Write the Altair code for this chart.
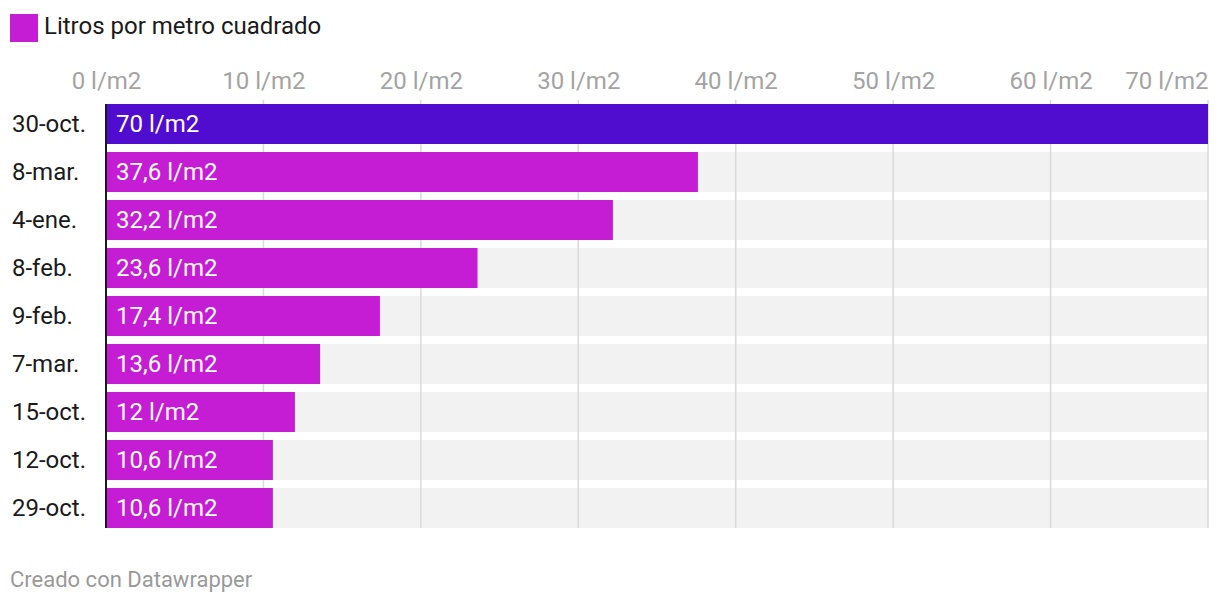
import altair as alt
import pandas as pd

fechas = ["30-oct.", "8-mar.", "4-ene.", "8-feb.", "9-feb.", "7-mar.", "15-oct.", "12-oct.", "29-oct."]
valores = [70, 37.6, 32.2, 23.6, 17.4, 13.6, 12, 10.6, 10.6]
ticks = [0, 10, 20, 30, 40, 50, 60, 70]
serie = "Litros por metro cuadrado"
pie = "Creado con Datawrapper"

def fmt(v):
    s = ("%g" % v).replace(".", ",")
    return s + " l/m2"

df = pd.DataFrame({
    "fecha": fechas,
    "valor": valores,
    "etiqueta": [fmt(v) for v in valores],
    "maximo": [70] * len(fechas),
    "destacado": [v == max(valores) for v in valores],
})
grid_df = pd.DataFrame({"t": ticks[1:]})

W, H = 1102, 432
FONT = "Roboto"
FS = 24

xscale = alt.Scale(domain=[0, 70], nice=False, zero=True)
yscale = alt.Scale(domain=fechas, paddingInner=1 / 6, paddingOuter=1 / 12)

xaxis = alt.Axis(
    orient="top", values=ticks, ticks=False, domain=False, grid=False,
    labelExpr="datum.value + ' l/m2'", labelFontSize=FS, labelColor="#a3a3a3",
    labelFont=FONT, labelPadding=7,
    labelAlign=alt.expr("datum.value == 70 ? 'right' : 'center'"),
    title=None,
)

base = alt.Chart(df)

bg = base.mark_bar(color="#f2f2f2").encode(
    x=alt.X("maximo:Q", scale=xscale, axis=xaxis),
    y=alt.Y("fecha:N", scale=yscale, axis=None, sort=fechas),
)

grid = alt.Chart(grid_df).mark_rule(color="#d9d9d9", strokeWidth=1.5).encode(
    x=alt.X("t:Q", scale=xscale),
    y=alt.value(0), y2=alt.value(428),
)

bars = base.mark_bar().encode(
    x=alt.X("valor:Q", scale=xscale),
    y=alt.Y("fecha:N", scale=yscale, sort=fechas),
    color=alt.condition("datum.destacado", alt.value("#500dcf"), alt.value("#c41dd4")),
)

zero = alt.Chart(pd.DataFrame({"z": [0]})).mark_rule(color="#1a1a1a", strokeWidth=2).encode(
    x=alt.X("z:Q", scale=xscale),
    y=alt.value(4), y2=alt.value(428),
)

labels = base.mark_text(align="left", baseline="middle", color="white", fontSize=FS, font=FONT, dx=10, dy=1).encode(
    x=alt.value(0),
    y=alt.Y("fecha:N", scale=yscale, sort=fechas),
    text="etiqueta:N",
)

ylabels = base.mark_text(align="left", baseline="middle", color="#1a1a1a", fontSize=FS, font=FONT, dy=1).encode(
    x=alt.value(-94),
    y=alt.Y("fecha:N", scale=yscale, sort=fechas),
    text="fecha:N",
)

leg_df = pd.DataFrame({"s": [serie]})
leg_rect = alt.Chart(leg_df).mark_rect(color="#c41dd4").encode(
    x=alt.value(-96), x2=alt.value(-68), y=alt.value(-86), y2=alt.value(-58),
)
leg_text = alt.Chart(leg_df).mark_text(align="left", baseline="middle", fontSize=FS, font=FONT, color="#1a1a1a").encode(
    x=alt.value(-62), y=alt.value(-73), text="s:N",
)
foot = alt.Chart(pd.DataFrame({"f": [pie]})).mark_text(align="left", baseline="middle", fontSize=22, font=FONT, color="#999999").encode(
    x=alt.value(-96), y=alt.value(480), text="f:N",
)

chart = alt.layer(bg, grid, bars, zero, labels, ylabels, leg_rect, leg_text, foot).properties(
    width=W, height=H,
    autosize=alt.AutoSizeParams(type="none"),
    padding={"left": 98, "top": 92, "right": 4, "bottom": 66},
).configure(font=FONT, view=alt.ViewConfig(stroke=None))

chart.save("out.html", embed_options={"renderer": "svg", "actions": False})
